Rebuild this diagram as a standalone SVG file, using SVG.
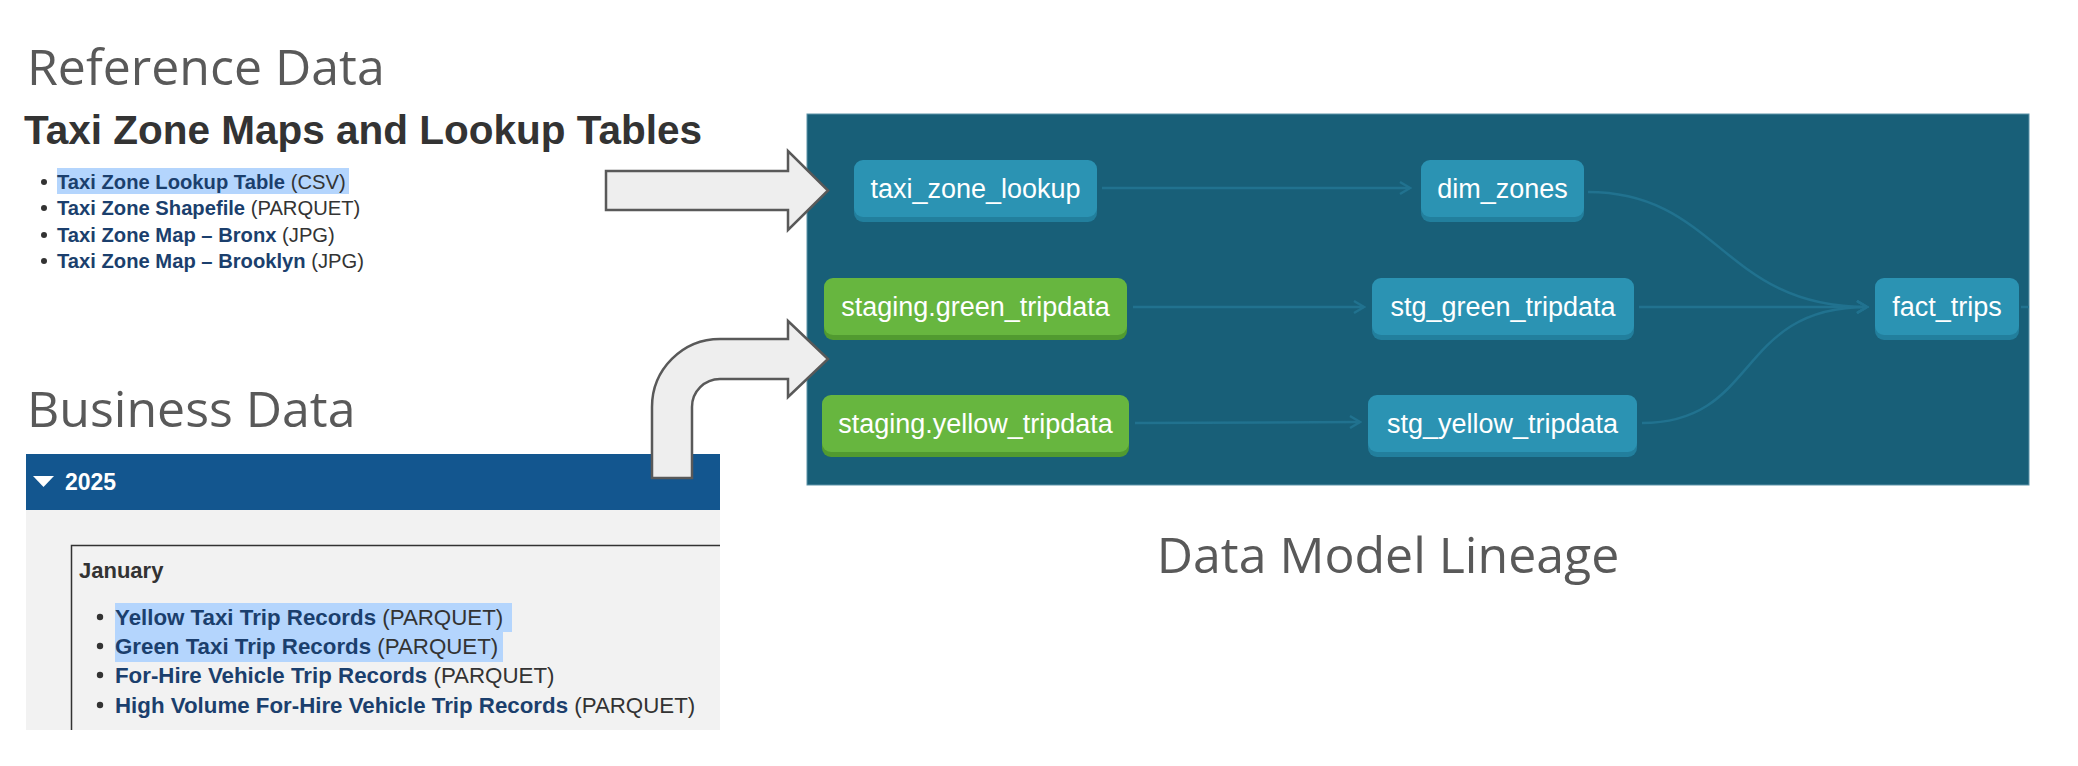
<svg xmlns="http://www.w3.org/2000/svg" width="2078" height="766" viewBox="0 0 2078 766">
  <defs>
    <style>
      .title { font-family: "Open Sans", "Liberation Sans", sans-serif; font-weight: 400; font-size: 50px; fill: #595959; }
      .h2 { font-family: "Liberation Sans", Arial, sans-serif; font-weight: bold; font-size: 40.5px; fill: #333333; }
      .li { font-family: "Liberation Sans", Arial, sans-serif; font-size: 20.2px; fill: #333333; }
      .li2 { font-family: "Liberation Sans", Arial, sans-serif; font-size: 22.3px; fill: #333333; }
      .link { font-weight: bold; fill: #1b3f6d; }
      .hl { fill: #b4d5fd; }
      .bullet { fill: #333333; }
      .node-text { font-family: "Liberation Sans", Arial, sans-serif; font-size: 27px; fill: #ffffff; text-anchor: middle; }
      .blue { fill: #2b93b3; }
      .blue-sh { fill: #227f9d; }
      .green { fill: #67b63f; }
      .green-sh { fill: #519a30; }
      .edge { fill: none; stroke: #21728f; stroke-width: 2.5; }
      .bigarrow { fill: #eeeeee; stroke: #595959; stroke-width: 2.5; stroke-linejoin: miter; }
    </style>
    <marker id="chev" markerUnits="userSpaceOnUse" markerWidth="14" markerHeight="16" refX="11" refY="7" orient="auto" viewBox="0 0 14 14">
      <path d="M1,1 L11,7 L1,13" fill="none" stroke="#21728f" stroke-width="2.5"/>
    </marker>
  </defs>

  <rect x="0" y="0" width="2078" height="766" fill="#ffffff"/>

  <!-- Reference Data section -->
  <g id="reference-data">
    <text class="title" x="27" y="85">Reference Data</text>
    <text class="h2" x="24" y="144">Taxi Zone Maps and Lookup Tables</text>
    <rect class="hl" x="57" y="168" width="292" height="26"/>
    <circle class="bullet" cx="44" cy="182" r="3"/>
    <circle class="bullet" cx="44" cy="208" r="3"/>
    <circle class="bullet" cx="44" cy="235" r="3"/>
    <circle class="bullet" cx="44" cy="261" r="3"/>
    <text class="li" x="57" y="189"><tspan class="link">Taxi Zone Lookup Table</tspan> (CSV)</text>
    <text class="li" x="57" y="215"><tspan class="link">Taxi Zone Shapefile</tspan> (PARQUET)</text>
    <text class="li" x="57" y="242"><tspan class="link">Taxi Zone Map – Bronx</tspan> (JPG)</text>
    <text class="li" x="57" y="268"><tspan class="link">Taxi Zone Map – Brooklyn</tspan> (JPG)</text>
  </g>

  <!-- Business Data section -->
  <g id="business-data">
    <text class="title" x="27" y="427">Business Data</text>
    <rect x="26" y="454" width="694" height="56" fill="#13568f"/>
    <polygon points="33,476 54,476 43.5,487" fill="#ffffff"/>
    <text x="65" y="490" font-family="Liberation Sans, Arial, sans-serif" font-weight="bold" font-size="23" fill="#ffffff">2025</text>
    <rect x="26" y="510" width="694" height="220" fill="#f2f2f2"/>
    <path d="M720,545.5 H71.5 V730" fill="none" stroke="#333333" stroke-width="1.5"/>
    <text x="79" y="578" font-family="Liberation Sans, Arial, sans-serif" font-weight="bold" font-size="22" fill="#333333">January</text>
    <rect class="hl" x="115" y="603" width="397" height="29"/>
    <rect class="hl" x="115" y="632" width="388" height="30"/>
    <circle class="bullet" cx="100" cy="617" r="3.2"/>
    <circle class="bullet" cx="100" cy="646" r="3.2"/>
    <circle class="bullet" cx="100" cy="675" r="3.2"/>
    <circle class="bullet" cx="100" cy="705" r="3.2"/>
    <text class="li2" x="115" y="625"><tspan class="link">Yellow Taxi Trip Records</tspan> (PARQUET)</text>
    <text class="li2" x="115" y="654"><tspan class="link">Green Taxi Trip Records</tspan> (PARQUET)</text>
    <text class="li2" x="115" y="683"><tspan class="link">For-Hire Vehicle Trip Records</tspan> (PARQUET)</text>
    <text class="li2" x="115" y="713"><tspan class="link">High Volume For-Hire Vehicle Trip Records</tspan> (PARQUET)</text>
  </g>

  <!-- Lineage panel -->
  <rect id="lineage-panel" x="807" y="114" width="1222" height="371" fill="#185f78" stroke="#5d93a8" stroke-width="1"/>

  <g id="connectors">
    <path class="edge" d="M1102,188 H1410" marker-end="url(#chev)"/>
    <path class="edge" d="M1133,307 H1364" marker-end="url(#chev)"/>
    <path class="edge" d="M1135,423 L1360,422" marker-end="url(#chev)"/>
    <path class="edge" d="M1588,192 C1718,192 1722,307 1867,307" marker-end="url(#chev)"/>
    <path class="edge" d="M1639,307 H1867" marker-end="url(#chev)"/>
    <path class="edge" d="M1642,423 C1760,423 1735,307 1867,307" marker-end="url(#chev)"/>
    <path class="edge" d="M2021,307 H2029"/>
  </g>

  <g id="taxi_zone_lookup">
    <rect class="blue-sh" x="854" y="165" width="243" height="57" rx="9"/>
    <rect class="blue" x="854" y="160" width="243" height="57" rx="9"/>
    <text class="node-text" x="975.5" y="198">taxi_zone_lookup</text>
  </g>
  <g id="dim_zones">
    <rect class="blue-sh" x="1421" y="165" width="163" height="57" rx="9"/>
    <rect class="blue" x="1421" y="160" width="163" height="57" rx="9"/>
    <text class="node-text" x="1502.5" y="198">dim_zones</text>
  </g>
  <g id="staging_green_tripdata">
    <rect class="green-sh" x="824" y="283" width="303" height="57" rx="9"/>
    <rect class="green" x="824" y="278" width="303" height="57" rx="9"/>
    <text class="node-text" x="975.5" y="316">staging.green_tripdata</text>
  </g>
  <g id="staging_yellow_tripdata">
    <rect class="green-sh" x="822" y="400" width="307" height="57" rx="9"/>
    <rect class="green" x="822" y="395" width="307" height="57" rx="9"/>
    <text class="node-text" x="975.5" y="433">staging.yellow_tripdata</text>
  </g>
  <g id="stg_green_tripdata">
    <rect class="blue-sh" x="1372" y="283" width="262" height="57" rx="9"/>
    <rect class="blue" x="1372" y="278" width="262" height="57" rx="9"/>
    <text class="node-text" x="1503" y="316">stg_green_tripdata</text>
  </g>
  <g id="stg_yellow_tripdata">
    <rect class="blue-sh" x="1368" y="400" width="269" height="57" rx="9"/>
    <rect class="blue" x="1368" y="395" width="269" height="57" rx="9"/>
    <text class="node-text" x="1502.5" y="433">stg_yellow_tripdata</text>
  </g>
  <g id="fact_trips">
    <rect class="blue-sh" x="1875" y="283" width="144" height="57" rx="9"/>
    <rect class="blue" x="1875" y="278" width="144" height="57" rx="9"/>
    <text class="node-text" x="1947" y="316">fact_trips</text>
  </g>

  <!-- Big gray arrows -->
  <g id="arrow-reference">
    <polygon class="bigarrow" points="606,171 788,171 788,151 828,190.5 788,230 788,210 606,210"/>
  </g>
  <g id="arrow-business">
    <path class="bigarrow" d="M652,478 L652,407 A68,68 0 0 1 720,339 L788,339 L788,321 L828,359 L788,397 L788,379 L720,379 A28,28 0 0 0 692,407 L692,478 Z"/>
  </g>

  <text id="lineage-caption" class="title" x="1388" y="573" text-anchor="middle">Data Model Lineage</text>
</svg>
